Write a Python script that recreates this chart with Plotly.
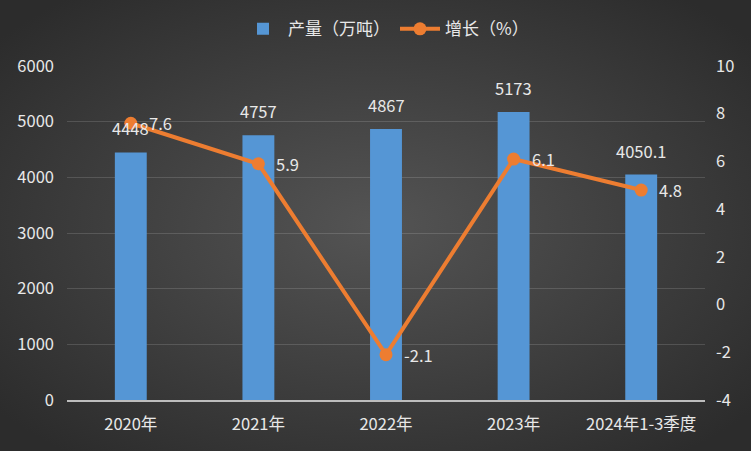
import base64
import plotly.graph_objects as go

categories = ["2020年", "2021年", "2022年", "2023年", "2024年1-3季度"]
output_values = [4448, 4757, 4867, 5173, 4050.1]
output_labels = ["4448", "4757", "4867", "5173", "4050.1"]
growth_values = [7.6, 5.9, -2.1, 6.1, 4.8]
growth_labels = ["7.6", "5.9", "-2.1", "6.1", "4.8"]
left_ticks = [0, 1000, 2000, 3000, 4000, 5000, 6000]
right_ticks = [-4, -2, 0, 2, 4, 6, 8, 10]
right_tick_text = ["-4", "-2", "0", "2", "4", "6", "8", "10"]

font_family = "Noto Sans CJK SC, Noto Sans, sans-serif"
text_color = "#e8e8e8"
fs = 16.5

W, H = 751, 451
ML, MR, MT, MB = 67, 46, 66, 51
PW, PH = W - ML - MR, H - MT - MB

bg_svg = (
    '<svg xmlns="http://www.w3.org/2000/svg" width="751" height="451" preserveAspectRatio="none">'
    '<defs><radialGradient id="g" cx="50%" cy="50%" r="65%">'
    '<stop offset="0%" stop-color="#545454"/><stop offset="100%" stop-color="#2c2c2c"/>'
    '</radialGradient></defs><rect width="751" height="451" fill="url(#g)"/></svg>'
)
bg_src = "data:image/svg+xml;base64," + base64.b64encode(bg_svg.encode()).decode()

fig = go.Figure()
fig.add_trace(go.Bar(
    x=categories, y=output_values, name="产量（万吨）",
    marker=dict(color="#5596d5", line=dict(width=0)),
    width=0.25,
))
fig.add_trace(go.Scatter(
    x=categories, y=growth_values, name="增长（%）", yaxis="y2",
    mode="lines+markers",
    line=dict(color="#ed7d31", width=4),
    marker=dict(color="#ed7d31", size=13),
    cliponaxis=False,
))

annotations = []
for c, v, t in zip(categories, output_values, output_labels):
    annotations.append(dict(x=c, y=v, xref="x", yref="y", text=t, showarrow=False,
                            xanchor="center", yanchor="bottom", yshift=10,
                            font=dict(size=fs, color=text_color, family=font_family)))
for c, v, t in zip(categories, growth_values, growth_labels):
    annotations.append(dict(x=c, y=v, xref="x", yref="y2", text=t, showarrow=False,
                            xanchor="left", yanchor="middle", xshift=16,
                            font=dict(size=fs, color=text_color, family=font_family)))

fig.update_layout(
    width=W, height=H,
    margin=dict(l=ML, r=MR, t=MT, b=MB, autoexpand=False),
    paper_bgcolor="#404040", plot_bgcolor="rgba(0,0,0,0)",
    font=dict(family=font_family, color=text_color, size=fs),
    showlegend=True,
    legend=dict(orientation="h", x=0.5, xanchor="center", y=0.975, yanchor="top",
                yref="container", font=dict(size=17, color=text_color),
                bgcolor="rgba(0,0,0,0)", itemwidth=40),
    xaxis=dict(showgrid=False, showline=True, linecolor="#bdbdbd", linewidth=2,
               ticks="", ticklabelstandoff=8, tickfont=dict(size=fs, color=text_color)),
    yaxis=dict(range=[0, 6000], tickvals=left_ticks, showgrid=True,
               gridcolor="rgba(255,255,255,0.14)", gridwidth=1, zeroline=False,
               showline=False, ticklabelstandoff=12,
               tickfont=dict(size=fs, color=text_color), ticks=""),
    yaxis2=dict(range=[-4, 10], tickvals=right_ticks, ticktext=right_tick_text,
                overlaying="y", side="right",
                showgrid=False, zeroline=False, showline=False, ticklabelstandoff=10,
                tickfont=dict(size=fs, color=text_color), ticks=""),
    annotations=annotations,
    images=[dict(source=bg_src, xref="paper", yref="paper",
                 x=-ML / PW, y=1 + MT / PH, sizex=W / PW, sizey=H / PH,
                 sizing="stretch", xanchor="left", yanchor="top", layer="below")],
)

fig.write_html("out.html", config={"displayModeBar": False},
               post_script="document.body.style.margin='0';")
